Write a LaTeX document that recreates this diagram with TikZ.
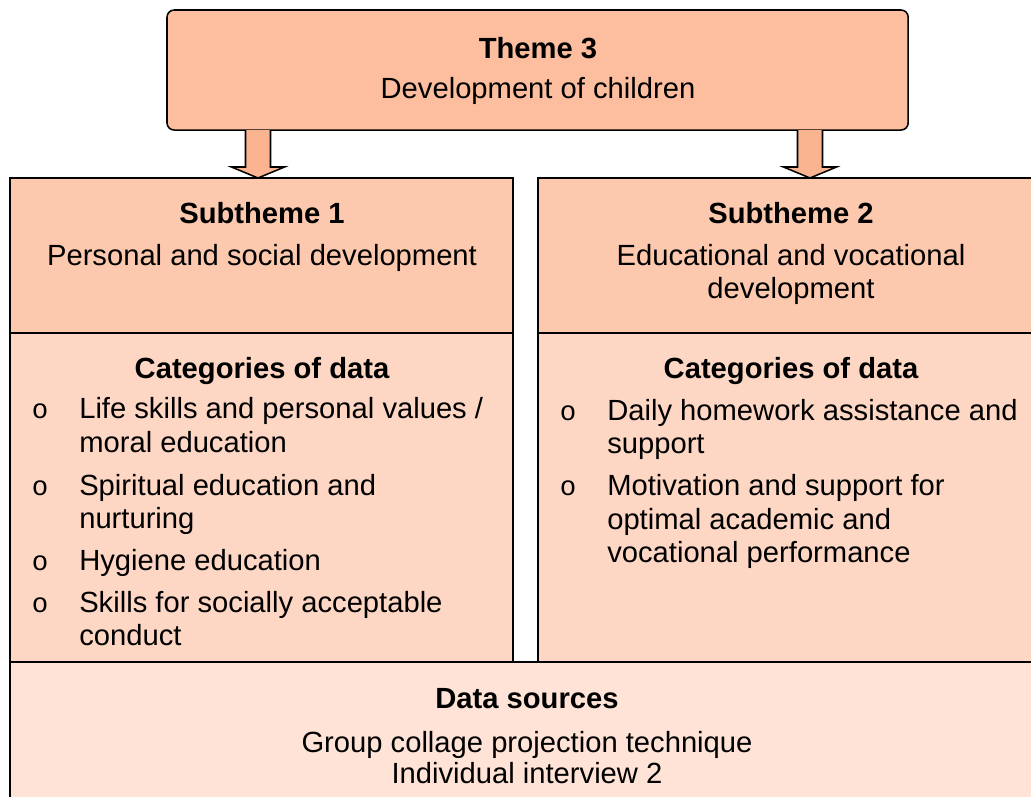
\documentclass[tikz,border=0pt]{standalone}
\usepackage{fontspec}
\setmainfont{Liberation Sans}
\newfontfamily\bulletfont{Liberation Mono}
\usetikzlibrary{positioning,calc}

\definecolor{themefill}{RGB}{252,190,158}
\definecolor{arrowfill}{RGB}{250,180,144}
\definecolor{subfill}{RGB}{252,200,174}
\definecolor{catfill}{RGB}{253,214,196}
\definecolor{srcfill}{RGB}{254,227,214}

\tikzset{
  box/.style={draw, line width=1.1pt, inner sep=0pt, outer sep=0pt},
  txt/.style={anchor=base, inner sep=0pt, font=\fontsize{20.75}{24}\selectfont},
  head/.style={txt, font=\fontsize{20.75}{24}\selectfont\bfseries},
  item/.style={txt, anchor=base west},
  dot/.style={txt, font=\fontsize{19.5}{22}\bulletfont},
  bigarrow/.style={draw, line width=1.1pt, fill=arrowfill, line join=miter}
}

\begin{document}
\begin{tikzpicture}[x=0.025cm, y=-0.025cm]
\useasboundingbox (0,0) rectangle (1031,796);

% boxes
\node[box, fill=themefill, rounded corners=0.18cm, anchor=north west,
  minimum width=18.525cm, minimum height=3cm] (theme) at (167,10) {};
\node[box, fill=subfill, anchor=north west,
  minimum width=12.575cm, minimum height=3.875cm] (sub1) at (10,178) {};
\node[box, fill=catfill, below=0pt of sub1,
  minimum width=12.575cm, minimum height=8.225cm] (cat1) {};
\node[box, fill=subfill, right=0.625cm of sub1,
  minimum width=12.65cm, minimum height=3.875cm] (sub2) {};
\node[box, fill=catfill, below=0pt of sub2,
  minimum width=12.65cm, minimum height=8.25cm] (cat2) {};
\node[box, fill=srcfill, below right=0pt and 0pt of cat1.south west,
  minimum width=25.85cm, minimum height=3.75cm] (sources) {};

% arrows
\coordinate (a1) at (258,0);
\coordinate (a2) at (810,0);
\draw[bigarrow] ($(theme.south -| a1)+(-12.5,0)$) -- ($(sub1.north -| a1)+(-12.5,-11)$)
  -- ($(sub1.north -| a1)+(-26.5,-11)$) -- (sub1.north -| a1)
  -- ($(sub1.north -| a1)+(26.5,-11)$) -- ($(sub1.north -| a1)+(12.5,-11)$)
  -- ($(theme.south -| a1)+(12.5,0)$);
\draw[bigarrow] ($(theme.south -| a2)+(-12.5,0)$) -- ($(sub2.north -| a2)+(-12.5,-11)$)
  -- ($(sub2.north -| a2)+(-26.5,-11)$) -- (sub2.north -| a2)
  -- ($(sub2.north -| a2)+(26.5,-11)$) -- ($(sub2.north -| a2)+(12.5,-11)$)
  -- ($(theme.south -| a2)+(12.5,0)$);

% theme
\node[head] (themehead) at (538,58) {Theme 3};
\node[txt] (themetext) at (538,98) {Development of children};

% subtheme 1
\node[head] (sub1head) at (262,223) {Subtheme 1};
\node[txt] (sub1text) at (262,265) {Personal and social development};
\node[head] (cat1head) at (262,378) {Categories of data};
\node[dot] (d11) at (40,418) {o};
\node[item] (i11) at (79,418) {Life skills and personal values /};
\node[item] (i11b) at (79,452) {moral education};
\node[dot] (d12) at (40,495) {o};
\node[item] (i12) at (79,495) {Spiritual education and};
\node[item] (i12b) at (79,528) {nurturing};
\node[dot] (d13) at (40,570) {o};
\node[item] (i13) at (79,570) {Hygiene education};
\node[dot] (d14) at (40,612) {o};
\node[item] (i14) at (79,612) {Skills for socially acceptable};
\node[item] (i14b) at (79,645) {conduct};

% subtheme 2
\node[head] (sub2head) at (791,223) {Subtheme 2};
\node[txt] (sub2text) at (791,265) {Educational and vocational};
\node[txt] (sub2textb) at (791,298) {development};
\node[head] (cat2head) at (791,378) {Categories of data};
\node[dot] (d21) at (568,420) {o};
\node[item] (i21) at (607,420) {Daily homework assistance and};
\node[item] (i21b) at (607,453) {support};
\node[dot] (d22) at (568,495) {o};
\node[item] (i22) at (607,495) {Motivation and support for};
\node[item] (i22b) at (607,529) {optimal academic and};
\node[item] (i22c) at (607,562) {vocational performance};

% data sources
\node[head] (srchead) at (527,708) {Data sources};
\node[txt] (src1) at (527,752) {Group collage projection technique};
\node[txt] (src2) at (527,783) {Individual interview 2};

\end{tikzpicture}
\end{document}
